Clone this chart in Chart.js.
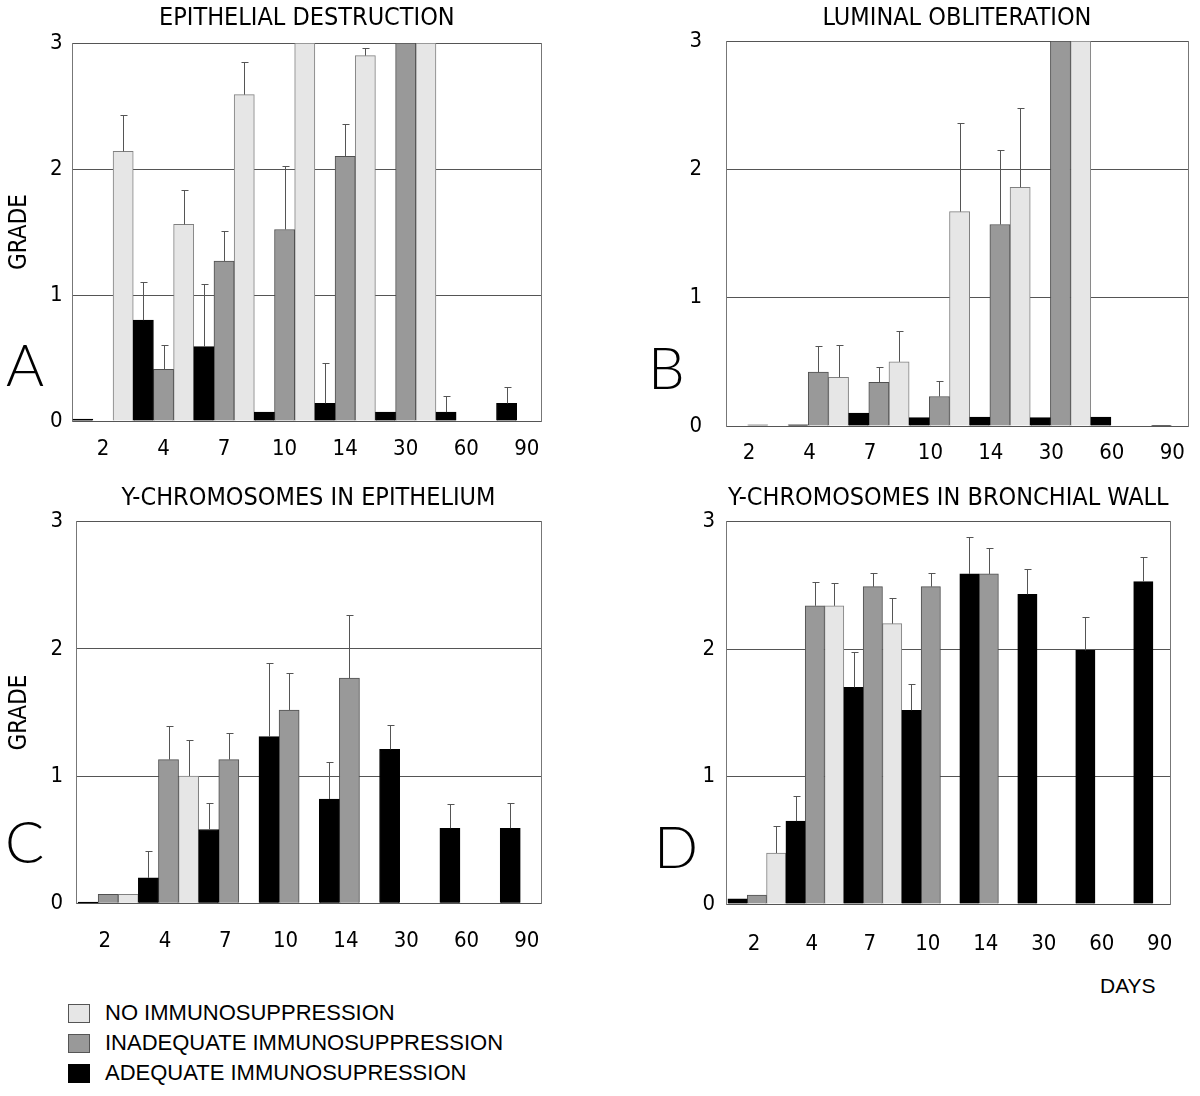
<!DOCTYPE html>
<html>
<head>
<meta charset="utf-8">
<script src="https://cdn.jsdelivr.net/npm/chart.js@4.4.0/dist/chart.umd.min.js"></script>
<style>
  html, body { margin: 0; padding: 0; background: #ffffff; }
  #page { position: relative; width: 1200px; height: 1096px; overflow: hidden; background: #ffffff; }
  #page canvas { position: absolute; }
  .letter { position: absolute; font-family: Lato, "DejaVu Sans", sans-serif; font-weight: 300; font-size: 58px; line-height: 1; color: #000; }
  .lg-row { position: absolute; left: 68px; height: 22px; white-space: nowrap; font-family: "Liberation Sans", Arial, sans-serif; font-size: 22px; line-height: 22px; color: #000; }
  .lg-sw { position: absolute; left: 0; top: 2px; width: 20px; height: 17px; border: 1px solid #555; box-sizing: content-box; }
  .lg-tx { position: absolute; left: 37px; top: 0; }
  #days { position: absolute; font-family: "Liberation Sans", Arial, sans-serif; font-size: 21px; color: #000; }
</style>
</head>
<body>
<div id="page">
  <canvas id="cA" width="600" height="470" style="left:0px;top:0px"></canvas>
  <canvas id="cB" width="600" height="470" style="left:600px;top:0px"></canvas>
  <canvas id="cC" width="600" height="470" style="left:0px;top:480px"></canvas>
  <canvas id="cD" width="600" height="470" style="left:600px;top:480px"></canvas>
  <div class="letter" style="left:6px;top:335px">A</div>
  <div class="letter" style="left:648px;top:338px">B</div>
  <div class="letter" style="left:5px;top:812px">C</div>
  <div class="letter" style="left:654px;top:817px">D</div>
  <div id="days" style="left:1100px;top:974px">DAYS</div>
  <div id="legend"></div>
</div>
<script>
// ---- categories ----
const days = ['2', '4', '7', '10', '14', '30', '60', '90'];

// ---- series (order inside each group: adequate, inadequate, none) ----
const seriesNames = ['ADEQUATE IMMUNOSUPRESSION', 'INADEQUATE IMMUNOSUPPRESSION', 'NO IMMUNOSUPPRESSION'];
const seriesColors = ['#000000', '#999999', '#e6e6e6'];
const seriesBorders = ['#000000', '#505050', '#808080'];

// ---- A: epithelial destruction ----
const edAdequate      = [0.015, 0.80, 0.59, 0.07, 0.14, 0.07, 0.07, 0.14];
const edAdequateErr   = [0, 0.30, 0.50, 0, 0.32, 0, 0.13, 0.13];
const edInadequate    = [0, 0.41, 1.27, 1.52, 2.10, 3.0, 0, 0];
const edInadequateErr = [0, 0.19, 0.24, 0.50, 0.26, 0, 0, 0];
const edNone          = [2.14, 1.56, 2.59, 3.0, 2.90, 3.0, 0, 0];
const edNoneErr       = [0.29, 0.27, 0.26, 0, 0.06, 0, 0, 0];

// ---- B: luminal obliteration ----
const loAdequate      = [0, 0.01, 0.10, 0.065, 0.07, 0.065, 0.07, 0.005];
const loAdequateErr   = [0, 0, 0, 0, 0, 0, 0, 0];
const loInadequate    = [0.01, 0.42, 0.34, 0.23, 1.57, 3.0, 0, 0];
const loInadequateErr = [0, 0.20, 0.12, 0.12, 0.58, 0, 0, 0];
const loNone          = [0, 0.38, 0.50, 1.67, 1.86, 3.0, 0, 0];
const loNoneErr       = [0, 0.25, 0.24, 0.69, 0.62, 0, 0, 0];

// ---- C: Y-chromosomes in epithelium ----
const yeAdequate      = [0.01, 0.20, 0.58, 1.31, 0.82, 1.21, 0.59, 0.59];
const yeAdequateErr   = [0, 0.21, 0.21, 0.58, 0.29, 0.19, 0.19, 0.20];
const yeInadequate    = [0.07, 1.13, 1.13, 1.52, 1.77, 0, 0, 0];
const yeInadequateErr = [0, 0.26, 0.21, 0.29, 0.50, 0, 0, 0];
const yeNone          = [0.07, 1.0, 0, 0, 0, 0, 0, 0];
const yeNoneErr       = [0, 0.28, 0, 0, 0, 0, 0, 0];

// ---- D: Y-chromosomes in bronchial wall ----
const ybAdequate      = [0.04, 0.65, 1.70, 1.52, 2.59, 2.43, 1.99, 2.53];
const ybAdequateErr   = [0, 0.20, 0.28, 0.21, 0.29, 0.20, 0.26, 0.19];
const ybInadequate    = [0.07, 2.34, 2.49, 2.49, 2.59, 0, 0, 0];
const ybInadequateErr = [0, 0.19, 0.11, 0.11, 0.20, 0, 0, 0];
const ybNone          = [0.40, 2.34, 2.20, 0, 0, 0, 0, 0];
const ybNoneErr       = [0.21, 0.18, 0.20, 0, 0, 0, 0, 0];

// ---- y axis ----
const gradeMin = 0, gradeMax = 3, gradeStep = 1;

const FONT_NARROW = '"DejaVu Sans Condensed", "Liberation Sans Narrow", "Arial Narrow", sans-serif';

// error bars drawn from the bar elements and the y scale
const errorBarPlugin = {
  id: 'errorBars',
  afterDatasetsDraw(chart) {
    const ctx = chart.ctx;
    const ys = chart.scales.y;
    chart.data.datasets.forEach((ds, di) => {
      const meta = chart.getDatasetMeta(di);
      if (!ds.errors) return;
      meta.data.forEach((bar, i) => {
        const e = ds.errors[i];
        if (!e) return;
        const v = ds.data[i].y;
        const x = Math.round(bar.x) + 0.5;
        const yTop = Math.round(ys.getPixelForValue(v + e)) + 0.5;
        const yBar = ys.getPixelForValue(v);
        ctx.save();
        ctx.strokeStyle = '#555555';
        ctx.lineWidth = 1;
        ctx.beginPath();
        ctx.moveTo(x, yBar);
        ctx.lineTo(x, yTop);
        ctx.moveTo(x - 3, yTop);
        ctx.lineTo(x + 4, yTop);
        ctx.stroke();
        ctx.restore();
      });
    });
  }
};

function makePanel(p) {
  const canvas = document.getElementById(p.canvasId);
  const W = canvas.width, H = canvas.height;
  const titleSize = 25, titleLH = titleSize * 1.2;
  const tTop = p.titleY - titleLH / 2;
  const tBottom = p.area.top - tTop - titleLH;
  const datasets = p.values.map((vals, si) => ({
    label: seriesNames[si],
    data: vals.map((v, i) => ({ x: i, y: v })),
    errors: p.errors[si],
    backgroundColor: seriesColors[si],
    borderColor: seriesBorders[si],
    borderWidth: 1,
    borderSkipped: 'start',
    categoryPercentage: 1,
    barPercentage: 1,
    xAxisID: 'x',
    yAxisID: 'y'
  }));
  const dayTicks = s => { s.ticks = days.map((d, i) => ({ value: i })); };
  return new Chart(canvas, {
    type: 'bar',
    data: { datasets },
    options: {
      responsive: false,
      animation: false,
      events: [],
      layout: { padding: 0 },
      plugins: {
        legend: { display: false },
        tooltip: { enabled: false },
        title: {
          display: true, text: p.title, fullSize: false, color: '#000',
          font: { family: FONT_NARROW, size: titleSize, weight: 'normal', lineHeight: 1.2 },
          padding: { top: tTop, bottom: tBottom }
        }
      },
      scales: {
        x: {
          type: 'linear', display: false, offset: false,
          min: p.barRange[0], max: p.barRange[1],
          afterBuildTicks: dayTicks
        },
        xl: {
          type: 'linear', position: 'bottom', offset: false,
          min: p.labelRange[0], max: p.labelRange[1],
          afterBuildTicks: dayTicks,
          ticks: {
            callback: (v) => days[Math.round(v)],
            color: '#000', font: { family: FONT_NARROW, size: 22 },
            padding: p.xPad, maxRotation: 0, autoSkip: false
          },
          grid: { display: false, drawTicks: false },
          border: { display: true, color: '#555555' },
          afterFit: s => { s.height = H - p.area.bottom; }
        },
        y: {
          type: 'linear', position: 'left', min: gradeMin, max: gradeMax,
          ticks: { stepSize: gradeStep, color: '#000', font: { family: FONT_NARROW, size: 22 }, padding: p.yPad },
          grid: { color: '#555555', lineWidth: 1, drawTicks: false },
          border: { display: true, color: '#777777' },
          title: {
            display: p.grade, text: 'GRADE', color: '#000',
            font: { family: FONT_NARROW, size: 24, lineHeight: 1.2 },
            padding: { top: 5.5, bottom: 0 }
          },
          afterFit: s => { s.width = p.area.left; }
        },
        y2: {
          type: 'linear', position: 'right', min: gradeMin, max: gradeMax,
          ticks: { display: false },
          grid: { display: false, drawTicks: false },
          border: { display: true, color: '#777777' },
          afterFit: s => { s.width = W - p.area.right; }
        }
      }
    },
    plugins: [errorBarPlugin]
  });
}

makePanel({
  canvasId: 'cA', title: 'EPITHELIAL DESTRUCTION', grade: true,
  values: [edAdequate, edInadequate, edNone],
  errors: [edAdequateErr, edInadequateErr, edNoneErr],
  area: { left: 72.7, right: 541, top: 43, bottom: 421 }, titleY: 18,
  barRange: [-0.5, 7.235], labelRange: [-0.5, 7.235], xPad: 15, yPad: 10
});
makePanel({
  canvasId: 'cB', title: 'LUMINAL OBLITERATION', grade: false,
  values: [loAdequate, loInadequate, loNone],
  errors: [loAdequateErr, loInadequateErr, loNoneErr],
  area: { left: 126, right: 588, top: 41, bottom: 426 }, titleY: 18,
  barRange: [-0.525, 7.106], labelRange: [-0.38, 7.26], xPad: 14, yPad: 24
});
makePanel({
  canvasId: 'cC', title: 'Y-CHROMOSOMES IN EPITHELIUM', grade: true,
  values: [yeAdequate, yeInadequate, yeNone],
  errors: [yeAdequateErr, yeInadequateErr, yeNoneErr],
  area: { left: 76, right: 541, top: 41.7, bottom: 423.3 }, titleY: 18,
  barRange: [-0.534, 7.177], labelRange: [-0.476, 7.235], xPad: 25, yPad: 13
});
makePanel({
  canvasId: 'cD', title: 'Y-CHROMOSOMES IN BRONCHIAL WALL', grade: false,
  values: [ybAdequate, ybInadequate, ybNone],
  errors: [ybAdequateErr, ybInadequateErr, ybNoneErr],
  area: { left: 126, right: 587.7, top: 41.7, bottom: 424 }, titleY: 18,
  barRange: [-0.533, 7.136], labelRange: [-0.482, 7.187], xPad: 27, yPad: 11
});

// legend (listed light, gray, black)
const legendEl = document.getElementById('legend');
const legendTops = [1002, 1032, 1062];
[2, 1, 0].forEach((si, row) => {
  const r = document.createElement('div');
  r.className = 'lg-row';
  r.style.top = legendTops[row] + 'px';
  const sw = document.createElement('div');
  sw.className = 'lg-sw';
  sw.style.background = seriesColors[si];
  sw.style.borderColor = si === 0 ? '#000' : '#555';
  const tx = document.createElement('div');
  tx.className = 'lg-tx';
  tx.textContent = seriesNames[si];
  r.appendChild(sw);
  r.appendChild(tx);
  legendEl.appendChild(r);
});
</script>
</body>
</html>
